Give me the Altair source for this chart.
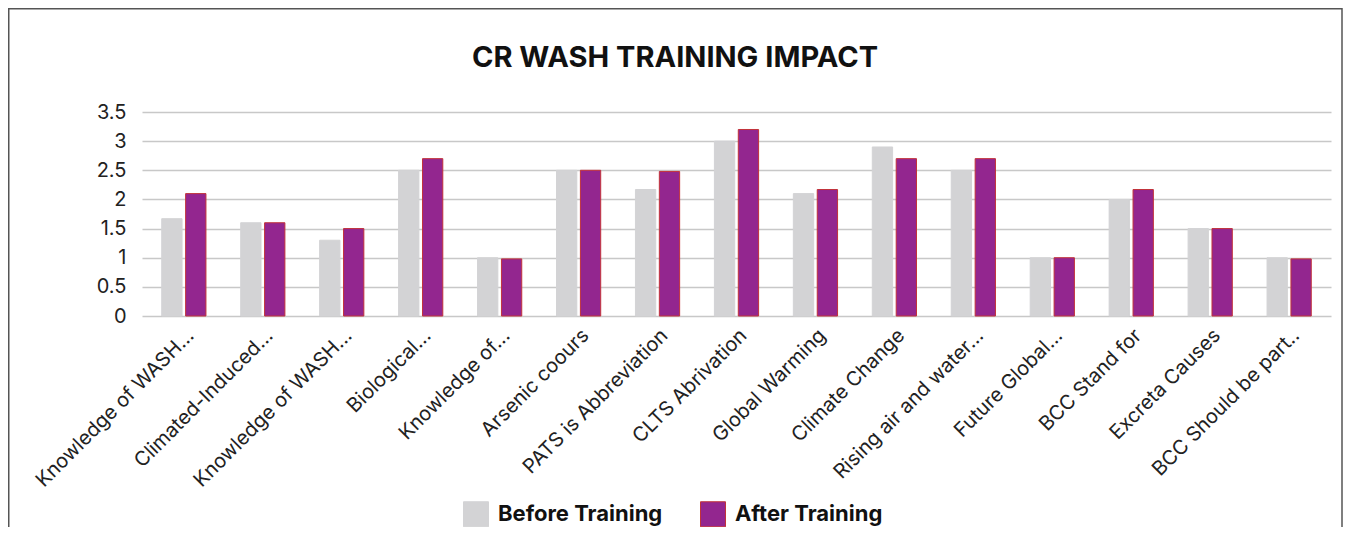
import altair as alt
import pandas as pd

labels = [
    "Knowledge of WASH...",
    "Climated-Induced...",
    "Knowledge of WASH...",
    "Biological...",
    "Knowledge of...",
    "Arsenic coours",
    "PATS is Abbreviation",
    "CLTS Abrivation",
    "Global Warming",
    "Climate Change",
    "Rising air and water...",
    "Future Global...",
    "BCC Stand for",
    "Excreta Causes",
    "BCC Should be part..",
]
before = [1.67, 1.6, 1.3, 2.5, 1.0, 2.5, 2.17, 3.0, 2.1, 2.9, 2.5, 1.0, 2.0, 1.5, 1.0]
after = [2.1, 1.6, 1.5, 2.7, 0.98, 2.5, 2.48, 3.2, 2.17, 2.7, 2.7, 1.0, 2.17, 1.5, 0.98]
series = ["Before Training", "After Training"]
fills = ["#d3d3d5", "#93268f"]
strokes = ["#d3d3d5", "#c2323a"]
y_ticks = [0, 0.5, 1, 1.5, 2, 2.5, 3, 3.5]
title_text = "CR WASH TRAINING IMPACT"

rows = []
for i in range(len(labels)):
    rows.append({"idx": i, "series": series[0], "value": before[i]})
    rows.append({"idx": i, "series": series[1], "value": after[i]})
df = pd.DataFrame(rows)

label_expr = "[" + ",".join("'" + l + "'" for l in labels) + "][datum.value]"

FONT = "Inter"
W, H = 1189, 204
PL, PT, PR, PB = 134, 104, 12, 211

legend = alt.Legend(
    title=None, orient="none", legendX=321, legendY=389, direction="horizontal",
    symbolType="square", symbolSize=625, symbolStrokeWidth=1,
    labelFont=FONT, labelFontSize=22, labelFontWeight="bold", labelColor="#111",
    labelOffset=9, columnPadding=35, padding=0, labelLimit=400,
)

bars = alt.Chart(df).mark_bar(strokeWidth=1).encode(
    x=alt.X(
        "idx:O",
        scale=alt.Scale(paddingInner=0.44, paddingOuter=0.25),
        axis=alt.Axis(
            title=None, labelAngle=-45, labelAlign="right", labelBaseline="top",
            labelExpr=label_expr, labelFont=FONT, labelFontSize=20, labelColor="#222",
            domain=False, ticks=False, labelPadding=9, grid=False, labelLimit=400,
        ),
    ),
    xOffset=alt.XOffset("series:N", sort=series, scale=alt.Scale(domain=series, paddingInner=0.15)),
    y=alt.Y(
        "value:Q",
        scale=alt.Scale(domain=[0, 3.5], nice=False),
        axis=alt.Axis(
            title=None, values=y_ticks, format=".1~f", labelFont=FONT, labelFontSize=20,
            labelColor="#222", domain=False, ticks=False, labelPadding=16,
            gridColor="#c8c8c8", gridWidth=1.5,
        ),
    ),
    fill=alt.Fill("series:N", sort=series, scale=alt.Scale(domain=series, range=fills), legend=legend),
    stroke=alt.Stroke("series:N", sort=series, scale=alt.Scale(domain=series, range=strokes), legend=legend),
)

one = pd.DataFrame({"t": [title_text]})

frame = alt.Chart(one).mark_rect(
    fillOpacity=0, stroke="#555555", strokeWidth=1.5
).encode(
    x=alt.value(-PL + 0.75),
    x2=alt.value(W + PR - 1),
    y=alt.value(-PT + 0.75),
    y2=alt.value(H + PB + 10),
)

title = alt.Chart(one).mark_text(
    font=FONT, fontSize=29, fontWeight="bold", color="#111",
    align="center", baseline="alphabetic",
).encode(
    text="t:N",
    x=alt.value(533),
    y=alt.value(-45),
)

chart = alt.layer(frame, title, bars).properties(
    width=W,
    height=H,
    padding={"left": PL, "top": PT, "right": PR, "bottom": PB},
    autosize=alt.AutoSizeParams(type="none"),
).configure_view(strokeWidth=0)

chart.save("out.html", embed_options={"renderer": "svg", "actions": False})
